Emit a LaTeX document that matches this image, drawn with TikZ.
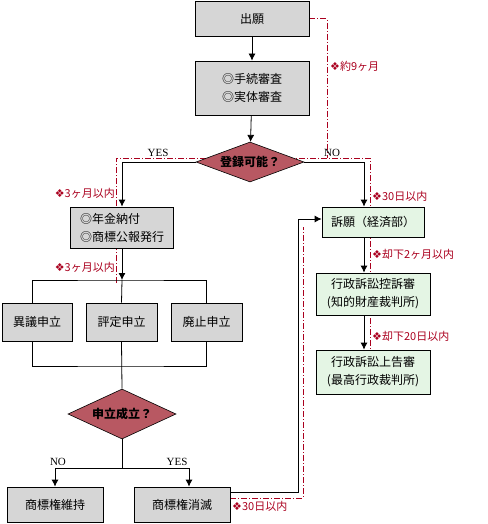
\documentclass[tikz,border=0pt]{standalone}
\usepackage{fontspec}
\setmainfont{Noto Sans CJK JP}
\newfontfamily\symfont{DejaVu Sans}
\newfontfamily\latfont{Liberation Serif}
\usetikzlibrary{arrows.meta, shapes.geometric, backgrounds}
\definecolor{mygray}{RGB}{214,214,214}
\definecolor{mygreen}{RGB}{228,245,228}
\definecolor{myred}{RGB}{170,0,30}
\definecolor{mydiam}{RGB}{184,88,98}
\newcommand{\mk}{{\symfont\char"2756}}

\tikzset{
graybox/.style={draw, fill=mygray, line width=0.8pt, inner sep=0pt, align=center, font=\fontsize{12}{18}\selectfont},
greenbox/.style={graybox, fill=mygreen},
decide/.style={diamond, aspect=2.7, draw, fill=mydiam, inner sep=0pt, line width=0.6pt, font=\bfseries\fontsize{12}{14}\selectfont},
flow/.style={-{Latex[length=7pt,width=7pt]}, line width=0.8pt},
period/.style={myred, line width=0.8pt, dash pattern=on 6pt off 2pt on 1pt off 2pt},
term/.style={text=myred, inner sep=1pt, font=\fontsize{11}{13}\selectfont},
yn/.style={inner sep=0pt, font=\latfont\fontsize{11}{13}\selectfont},
}

\begin{document}
\begin{tikzpicture}[x=1pt, y=-1pt]
\useasboundingbox (0,0) rectangle (487,524);

%the boxes:
\node[graybox, minimum width=114pt, minimum height=35pt] (apply) at (252,18.5) {出願};
\node[graybox, minimum width=114pt, minimum height=54pt, align=left] (exam) at (252,88) {◎手続審査\\◎実体審査};
\node[decide, minimum width=108pt, minimum height=40pt] (reg) at (250,162) {登録可能？};
\node[graybox, minimum width=103pt, minimum height=41pt, align=left] (pay) at (122,227.5) {◎年金納付\\◎商標公報発行};
\node[greenbox, minimum width=102pt, minimum height=30pt] (appeal) at (373,222) {訴願（経済部）};
\node[greenbox, minimum width=114pt, minimum height=42pt] (high) at (373,294) {行政訴訟控訴審\\(知的財産裁判所)};
\node[greenbox, minimum width=114pt, minimum height=44pt] (supreme) at (373,372) {行政訴訟上告審\\(最高行政裁判所)};
\node[graybox, minimum width=70pt, minimum height=38pt] (opp1) at (37,322) {異議申立};
\node[graybox, minimum width=71pt, minimum height=38pt] (opp2) at (121.5,322) {評定申立};
\node[graybox, minimum width=71pt, minimum height=38pt] (opp3) at (206.5,322) {廃止申立};
\node[decide, minimum width=108pt, minimum height=50pt] (res) at (122,414) {申立成立？};
\node[graybox, minimum width=96pt, minimum height=35pt] (keep) at (55,504.5) {商標権維持};
\node[graybox, minimum width=96pt, minimum height=35pt] (lapse) at (182,504.5) {商標権消滅};

%the flow:
\coordinate (rcol) at (364,0);
\coordinate (fan) at (122,280);
\coordinate (join) at (122,366);
\coordinate (split) at (122,468);
\draw[flow] (apply) -- (exam);
\draw[flow] (exam) -- (reg);
\draw[flow] (reg.west) -| (pay.north);
\draw[flow] (reg.east) -| (appeal.north -| rcol);
\draw[flow] (appeal.south -| rcol) -- (high.north -| rcol);
\draw[flow] (high.south -| rcol) -- (supreme.north -| rcol);
\draw[flow] (pay) -- (fan);
\draw[line width=0.8pt] ([xshift=-5pt]opp1.north) |- (fan) -| (opp3.north);
\draw[line width=0.8pt] (opp2.north) -- (fan);
\draw[line width=0.8pt] ([xshift=-5pt]opp1.south) |- (join) -| (opp3.south);
\draw[line width=0.8pt] (opp2.south) -- (res.north);
\draw[line width=0.8pt] (res.south) -- (split);
\draw[flow] (split) -| (keep.north);
\draw[flow] (split) -| ([xshift=7pt]lapse.north);
\draw[flow] ([yshift=12.5pt]lapse.east) -- ++(68,0) |- ([yshift=3pt]appeal.west);

%the time limits:
\begin{scope}[on background layer]
\coordinate (m9) at (327,158);
\coordinate (pl) at (116,283);
\coordinate (pr) at (370,350);
\draw[period] (apply.east) -| (m9);
\draw[period] (pl) -- (116,158) -- (370,158) -- (pr);
\draw[period] ([yshift=6.5pt]lapse.east) -| (303,227);
\end{scope}
\node[term, anchor=west] (t9m) at (329,66) {\mk 約9ヶ月};
\node[term, anchor=east] (t3ma) at (116,193) {\mk 3ヶ月以内};
\node[term, anchor=east] (t3mb) at (116,267) {\mk 3ヶ月以内};
\node[term, anchor=west] (t30a) at (371,196) {\mk 30日以内};
\node[term, anchor=west] (t2m) at (371,254) {\mk 却下2ヶ月以内};
\node[term, anchor=west] (t20) at (371,336) {\mk 却下20日以内};
\node[term, anchor=west] (t30b) at (231,506) {\mk 30日以内};

%yes and no:
\node[yn] (yes1) at (158,153) {YES};
\node[yn] (no1) at (332,153) {NO};
\node[yn] (no2) at (58,462) {NO};
\node[yn] (yes2) at (177,462) {YES};
\end{tikzpicture}
\end{document}
